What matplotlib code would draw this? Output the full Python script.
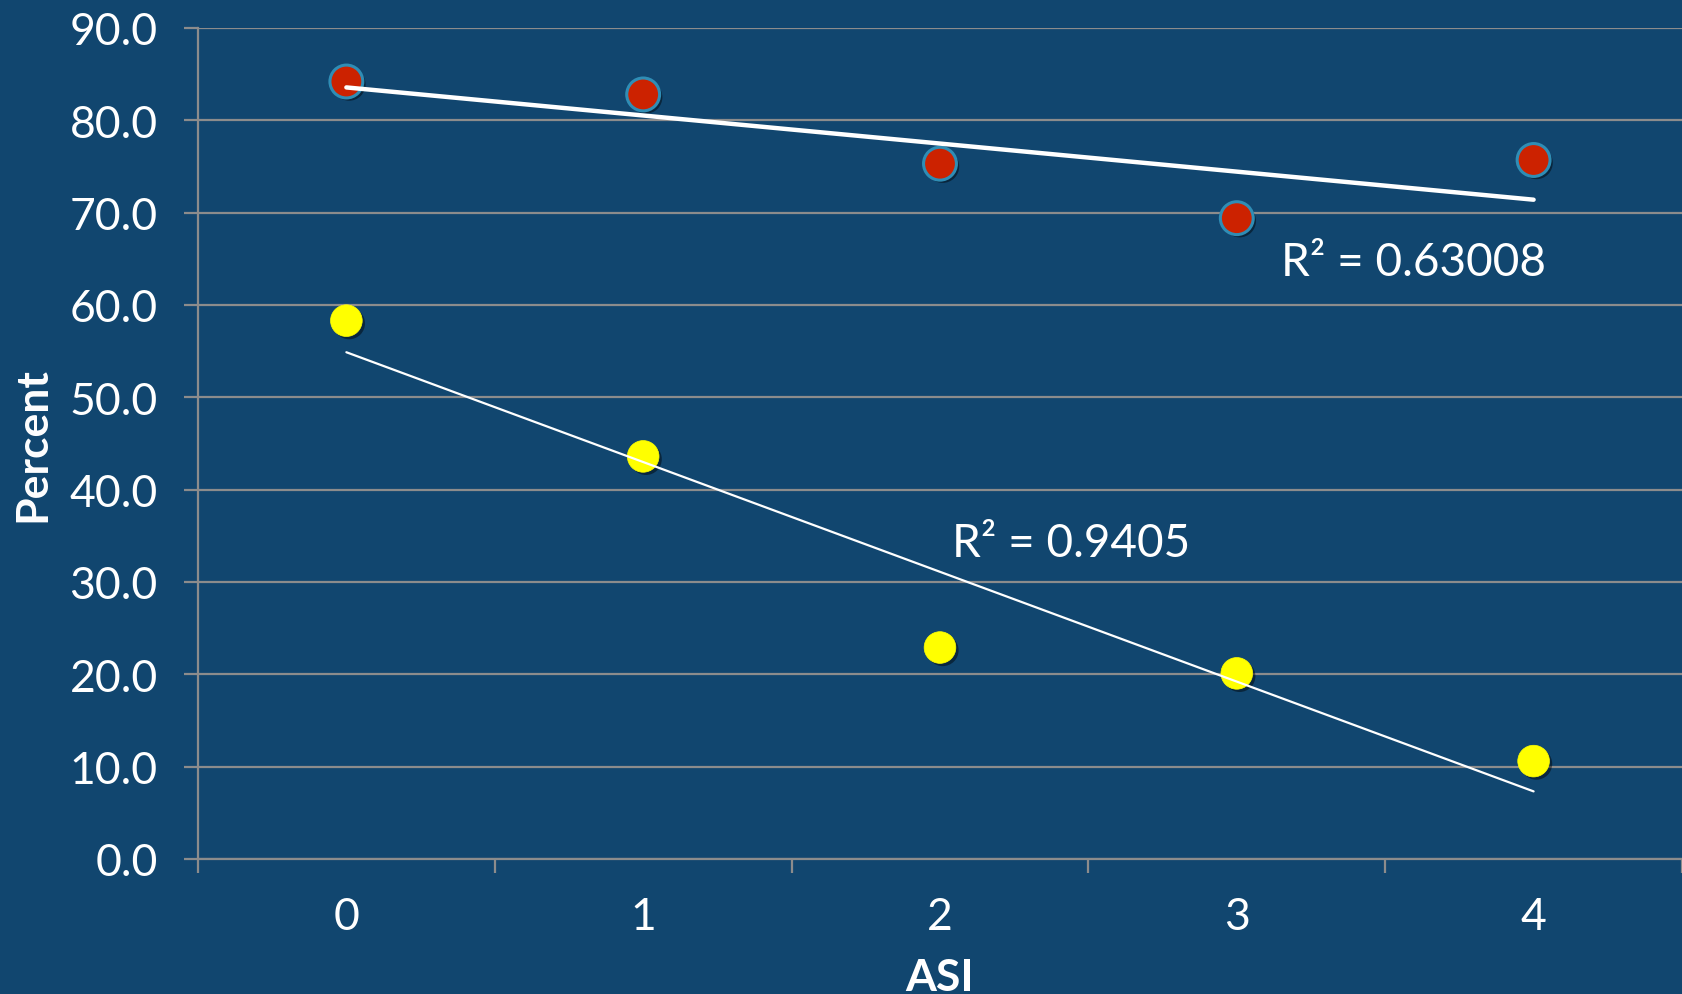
import matplotlib
matplotlib.use("Agg")
import matplotlib.pyplot as plt
import matplotlib.patheffects as pe
import numpy as np

plt.rcParams["font.family"] = ["Lato", "DejaVu Sans"]

# values
asi = [0, 1, 2, 3, 4]
red_pct = [84.2, 82.8, 75.3, 69.4, 75.7]
yellow_pct = [58.3, 43.6, 22.9, 20.1, 10.6]
red_r2 = "R² = 0.63008"
yellow_r2 = "R² = 0.9405"
y_ticks = [0, 10, 20, 30, 40, 50, 60, 70, 80, 90]

bg = "#11466f"
grid = "#8c8c8c"

fig = plt.figure(figsize=(16.82, 9.95), dpi=100, facecolor=bg)
ax = fig.add_axes([0.1177, 0.1357, 0.8823, 0.8352], facecolor=bg)

shadow = [pe.SimplePatchShadow(offset=(2, -2), alpha=0.45, shadow_rgbFace="black"), pe.Normal()]

ax.scatter(asi, red_pct, s=560, color="#cc2200", edgecolors="#2f8db5",
           linewidths=2.2, zorder=3, path_effects=shadow)
ax.scatter(asi, yellow_pct, s=520, color="#ffff00", edgecolors="#ffff00",
           linewidths=0.5, zorder=3, path_effects=shadow)

# linear trendlines
x = np.array(asi)
k, b = np.polyfit(x, red_pct, 1)
ax.plot([x[0], x[-1]], [k * x[0] + b, k * x[-1] + b], color="white",
        lw=3.2, solid_capstyle="round", zorder=4)
k, b = np.polyfit(x, yellow_pct, 1)
ax.plot([x[0], x[-1]], [k * x[0] + b, k * x[-1] + b], color="white",
        lw=1.6, solid_capstyle="round", zorder=4)

ax.text(3.15, 64.7, red_r2, color="white", fontsize=33, ha="left", va="center", zorder=5)
ax.text(2.04, 34.2, yellow_r2, color="white", fontsize=33, ha="left", va="center", zorder=5)

ax.set_xlim(-0.5, 4.5)
ax.set_ylim(0, 90)

ax.set_yticks(y_ticks)
ax.set_yticklabels(["{:.1f}".format(v) for v in y_ticks])
ax.set_xticks(asi)
ax.set_xticklabels([str(v) for v in asi])
ax.set_xticks(np.arange(-0.5, 5.0, 1.0), minor=True)

ax.tick_params(axis="y", colors=grid, length=10, width=1.6, pad=19,
               labelcolor="white", labelsize=32)
ax.tick_params(axis="x", which="major", length=0, pad=27,
               labelcolor="white", labelsize=32)
ax.tick_params(axis="x", which="minor", colors=grid, length=10, width=1.6)

ax.grid(axis="y", color=grid, lw=1.6)
ax.set_axisbelow(True)

for side in ["top", "right"]:
    ax.spines[side].set_visible(False)
for side in ["left", "bottom"]:
    ax.spines[side].set_color(grid)
    ax.spines[side].set_linewidth(1.6)

ax.set_xlabel("ASI", color="white", fontsize=32, fontweight="bold", labelpad=14)
ax.set_ylabel("Percent", color="white", fontsize=32, fontweight="bold", labelpad=12)

fig.savefig("out.png", dpi=100, facecolor=bg)
